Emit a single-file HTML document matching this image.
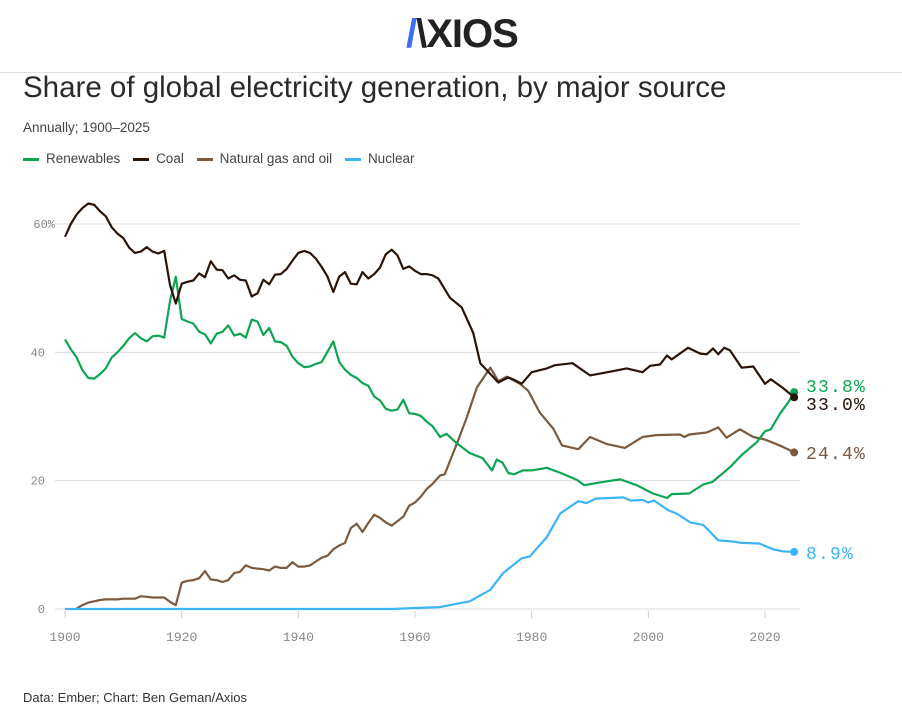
<!DOCTYPE html>
<html><head><meta charset="utf-8">
<style>
body{margin:0;width:902px;height:720px;background:#fff;font-family:"Liberation Sans",sans-serif;overflow:hidden;position:relative}
.abs{position:absolute}
</style></head><body>
<div class="abs" style="left:406px;top:12px;font-size:40px;font-weight:bold;letter-spacing:-1px;color:#222"><span style="color:#3b6ff0">/</span>\XIOS</div>
<div class="abs" style="left:0;top:72px;width:902px;height:1px;background:#e2e2e2"></div>
<div class="abs" style="left:23px;top:71px;font-size:29.5px;color:#2a2a2a">Share of global electricity generation, by major source</div>
<div class="abs" style="left:23px;top:120px;font-size:13.5px;color:#444">Annually; 1900–2025</div>
<div class="abs" style="left:23px;top:151px;font-size:13.5px;color:#444;white-space:nowrap">
<span><span style="display:inline-block;width:16px;height:3px;background:#0ea552;vertical-align:middle;margin-right:7px"></span>Renewables</span>
<span style="margin-left:9px"><span style="display:inline-block;width:16px;height:3px;background:#2a1408;vertical-align:middle;margin-right:7px"></span>Coal</span>
<span style="margin-left:9px"><span style="display:inline-block;width:16px;height:3px;background:#7b5a40;vertical-align:middle;margin-right:7px"></span>Natural gas and oil</span>
<span style="margin-left:9px"><span style="display:inline-block;width:16px;height:3px;background:#3cb4f5;vertical-align:middle;margin-right:7px"></span>Nuclear</span>
</div>
<svg class="abs" style="left:0;top:0" width="902" height="720" id="chart"></svg>
<div class="abs" style="left:23px;top:690px;font-size:13px;color:#333">Data: Ember; Chart: Ben Geman/Axios</div>
<script>
const yTicks=[0,20,40,60];
const yTickLabels=["0","20","40","60%"];
const xTicks=[1900,1920,1940,1960,1980,2000,2020];
const coalYears=[1900,1901,1902,1903,1904,1905,1906,1907,1908,1909,1910,1911,1912,1913,1914,1915,1916,1917,1918,1919,1920,1921,1922,1923,1924,1925,1926,1927,1928,1929,1930,1931,1932,1933,1934,1935,1936,1937,1938,1939,1940,1941,1942,1943,1944,1945,1946,1947,1948,1949,1950,1951,1952,1953,1954,1955,1956,1957,1958,1959,1960,1961,1962,1963,1964,1966,1968,1970,1971.2,1974.3,1976,1977,1978.3,1980,1982.6,1984,1987,1990,1993,1996.3,1999,2000.3,2002,2003.2,2004,2006.8,2008.9,2010,2011.1,2012,2013,2014,2016,2018,2020,2021,2023,2025];
const coalValues=[58,60,61.5,62.5,63.2,63,62,61.2,59.5,58.5,57.8,56.3,55.5,55.7,56.4,55.7,55.4,55.8,50.5,47.6,50.7,51,51.2,52.3,51.7,54.2,52.9,52.8,51.5,52,51.3,51.2,48.7,49.2,51.3,50.6,52.1,52.2,53,54.3,55.5,55.8,55.5,54.6,53.3,51.8,49.4,51.8,52.5,50.7,50.6,52.5,51.5,52.2,53.2,55.3,56,55.1,53,53.4,52.7,52.2,52.2,52,51.5,48.5,47,43,38.3,35.3,36.1,35.7,35.1,36.9,37.5,38,38.3,36.4,36.9,37.5,36.9,37.9,38.1,39.5,38.9,40.7,39.8,39.7,40.6,39.7,40.7,40.3,37.6,37.8,35.1,35.8,34.5,33.0];
const renewYears=[1900,1901,1902,1903,1904,1905,1906,1907,1908,1909,1910,1911,1912,1913,1914,1915,1916,1917,1918,1919,1920,1921,1922,1923,1924,1925,1926,1927,1928,1929,1930,1931,1932,1933,1934,1935,1936,1937,1938,1939,1940,1941,1942,1943,1944,1945,1946,1947,1948,1949,1950,1951,1952,1953,1954,1955,1956,1957,1958,1959,1960,1961,1962,1963,1964.3,1965.4,1967.2,1969.4,1971.6,1973.2,1974,1975,1976,1977,1978.5,1980,1982.6,1985,1987.8,1989,1991,1992.9,1995.2,1998,2000.8,2003.2,2004,2007,2009.4,2011,2014,2016,2018.6,2020,2021,2022.6,2024,2025];
const renewValues=[42,40.5,39.2,37.2,36,35.9,36.6,37.5,39.2,40,41,42.2,43,42.2,41.7,42.5,42.6,42.3,48,51.8,45.2,44.8,44.5,43.2,42.8,41.4,42.9,43.2,44.2,42.6,42.9,42.3,45.1,44.8,42.7,43.8,41.7,41.6,41,39.3,38.3,37.7,37.8,38.2,38.5,40.1,41.7,38.5,37.3,36.5,36,35.2,34.8,33.1,32.5,31.2,30.9,31.1,32.6,30.5,30.4,30.1,29.2,28.5,26.8,27.3,25.8,24.3,23.5,21.6,23.3,22.8,21.2,21,21.6,21.6,22,21.2,20.1,19.3,19.6,19.9,20.2,19.3,18,17.3,17.9,18,19.4,19.8,22.1,24,26,27.7,28,30.5,32.2,33.8];
const gasYears=[1902,1903,1904,1905,1906,1907,1908,1909,1910,1911,1912,1913,1914,1915,1916,1917,1918,1919,1920,1921,1922,1923,1924,1925,1926,1927,1928,1929,1930,1931,1932,1933,1934,1935,1936,1937,1938,1939,1940,1941,1942,1943,1944,1945,1946,1947,1948,1949,1950,1951,1952,1953,1954,1955,1956,1957,1958,1959,1960,1961,1962,1963,1964.3,1965.1,1967.2,1968.9,1970.6,1972.9,1974.3,1975.7,1978,1979.4,1981.4,1983.7,1985.2,1988,1990,1992.9,1996,1999,2001.3,2005.4,2006.2,2007,2010,2012,2013.4,2015.7,2018,2020,2021.4,2023,2025];
const gasValues=[0.1,0.6,1,1.2,1.4,1.5,1.5,1.5,1.6,1.6,1.6,2,1.9,1.8,1.8,1.8,1.1,0.6,4.1,4.4,4.5,4.8,5.9,4.6,4.5,4.2,4.5,5.6,5.8,6.8,6.4,6.3,6.2,6,6.6,6.4,6.4,7.3,6.6,6.6,6.8,7.4,8,8.3,9.3,9.9,10.3,12.6,13.3,12,13.4,14.7,14.2,13.5,13,13.7,14.4,16.1,16.6,17.5,18.7,19.5,20.8,21,25.8,29.9,34.5,37.6,35.5,36.2,35.1,34,30.6,28.1,25.5,24.9,26.8,25.7,25.1,26.8,27.1,27.2,26.8,27.2,27.5,28.3,26.7,28,26.8,26.4,25.9,25.3,24.4];
const nucYears=[1900,1956,1960,1964.3,1966,1969.4,1972.9,1975.1,1978.3,1979.7,1982.6,1984.9,1988,1989.4,1991,1995.7,1997,1999,2000,2001,2003.4,2005,2007.2,2009.4,2012,2014.6,2016,2019,2021.4,2023,2025];
const nucValues=[0,0,0.15,0.3,0.6,1.2,3,5.6,7.9,8.2,11.2,14.9,16.8,16.5,17.2,17.4,16.9,17,16.6,16.9,15.4,14.8,13.5,13.1,10.7,10.5,10.3,10.2,9.3,9,8.9];
const endLabels=["33.8%","33.0%","24.4%","8.9%"];

const svg=document.getElementById('chart');
const NS='http://www.w3.org/2000/svg';
const X=y=>65+(y-1900)*700/120;
const Y=v=>609-v*(609-224)/60;
function mk(t,a){const e=document.createElementNS(NS,t);for(const k in a)e.setAttribute(k,a[k]);svg.appendChild(e);return e;}
yTicks.forEach((t,i)=>{
  const g=mk('line',{x1:55,x2:800,y1:Y(t),y2:Y(t),stroke:'#e0dde0','stroke-width':1});
  
  
  const tx=mk('text',{x:i==3?55:45,y:Y(t)+4,'text-anchor':'end','font-family':'Liberation Mono, monospace','font-size':12,fill:'#888'});
  tx.textContent=yTickLabels[i];
  
  
});
xTicks.forEach(t=>{
  const l=mk('line',{x1:X(t),x2:X(t),y1:611,y2:618,stroke:'#ccc','stroke-width':1});
  
  
  const tx=mk('text',{x:X(t),y:641,'text-anchor':'middle','font-family':'Liberation Mono, monospace','font-size':13,fill:'#888'});
  tx.textContent=t;
  
  
});
function series(ys,vs,color,name,label,ly){
  const d=ys.map((y,i)=>(i?'L':'M')+X(y).toFixed(1)+','+Y(vs[i]).toFixed(1)).join('');
  const p=mk('path',{d:d,fill:'none',stroke:color,'stroke-width':2.2,'stroke-linejoin':'round'});
  
  
  const lx=X(ys[ys.length-1]),lv=Y(vs[vs.length-1]);
  const c=mk('circle',{cx:lx,cy:lv,r:4,fill:color});
  
  
  const t=mk('text',{x:806,y:ly,'font-family':'Liberation Mono, monospace','font-size':18,fill:color,'letter-spacing':'1.2'});
  t.textContent=label;
  
  
}
series(gasYears,gasValues,'#7b5a40','gas-oil',endLabels[2],459);
series(nucYears,nucValues,'#3cb4f5','nuclear',endLabels[3],559);
series(renewYears,renewValues,'#0ea552','renewables',endLabels[0],392);
series(coalYears,coalValues,'#2a1408','coal',endLabels[1],410);
</script>
</body></html>
